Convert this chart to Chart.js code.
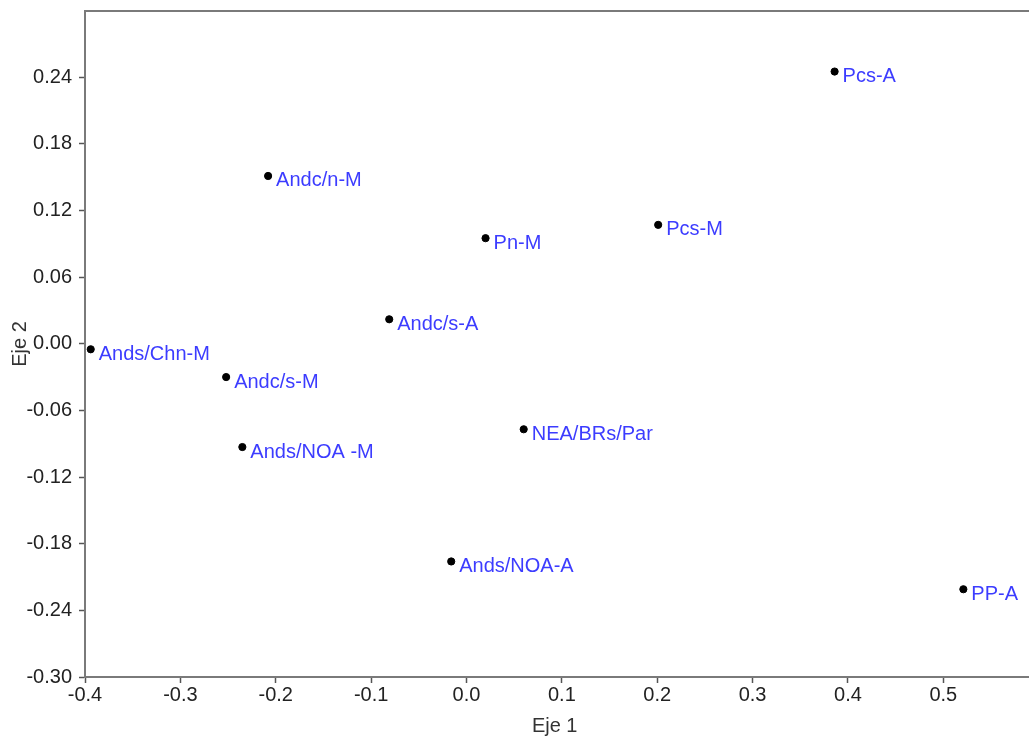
<!DOCTYPE html>
<html>
<head>
<meta charset="utf-8">
<script src="https://cdn.jsdelivr.net/npm/chart.js@4.4.1/dist/chart.umd.min.js"></script>
<style>
  html, body { margin: 0; padding: 0; background: #fff; overflow: hidden; }
  #wrap { width: 1029px; height: 738px; position: relative; }
  canvas { display: block; }
</style>
</head>
<body>
<div id="wrap"><canvas id="canvasBiplot"></canvas></div>
<script>
// site labels and scores
var siteLabels = ["Pcs-A", "Andc/n-M", "Pcs-M", "Pn-M", "Andc/s-A", "Ands/Chn-M",
  "Andc/s-M", "NEA/BRs/Par", "Ands/NOA -M", "Ands/NOA-A", "PP-A"];
var eje1 = [0.386, -0.208, 0.201, 0.020, -0.081, -0.394, -0.252, 0.060, -0.235, -0.016, 0.521];
var eje2 = [0.245, 0.151, 0.107, 0.095, 0.022, -0.005, -0.030, -0.077, -0.093, -0.196, -0.221];

var xTicks = [-0.4, -0.3, -0.2, -0.1, 0, 0.1, 0.2, 0.3, 0.4, 0.5];
var yTicks = [-0.30, -0.24, -0.18, -0.12, -0.06, 0, 0.06, 0.12, 0.18, 0.24];

var axisFont = { family: "'Liberation Sans', Arial, sans-serif", size: 20 };

// draw the name of each point to its right
var pointLabels = {
  id: "pointLabels",
  afterDatasetsDraw: function(chart) {
    var ctx = chart.ctx;
    var meta = chart.getDatasetMeta(0);
    ctx.save();
    ctx.font = "20px 'Liberation Sans', Arial, sans-serif";
    ctx.fillStyle = "#3c3cff";
    ctx.textBaseline = "middle";
    ctx.textAlign = "left";
    for (var i = 0; i < meta.data.length; i++) {
      var el = meta.data[i];
      ctx.fillText(siteLabels[i], el.x + 8, el.y + 5);
    }
    ctx.restore();
  }
};

// frame: top line and the rest of the bottom axis up to the canvas edge
var frameLines = {
  id: "frameLines",
  afterDraw: function(chart) {
    var ctx = chart.ctx;
    var a = chart.chartArea;
    ctx.save();
    ctx.strokeStyle = "#7a7a7a";
    ctx.lineWidth = 2;
    ctx.beginPath();
    ctx.moveTo(a.left, a.top);
    ctx.lineTo(chart.width, a.top);
    ctx.moveTo(a.right - 1, a.bottom);
    ctx.lineTo(chart.width, a.bottom);
    ctx.stroke();
    ctx.restore();
  }
};

var points = [];
for (var i = 0; i < eje1.length; i++) {
  points.push({ x: eje1[i], y: eje2[i] });
}

var biplotConfig = {
  type: "scatter",
  data: {
    datasets: [{
      data: points,
      backgroundColor: "#000",
      borderColor: "#000",
      pointRadius: 3.6,
      pointHoverRadius: 3.6
    }]
  },
  options: {
    responsive: true,
    maintainAspectRatio: false,
    animation: false,
    layout: { padding: { top: 11, right: 0 } },
    plugins: { legend: { display: false }, tooltip: { enabled: false } },
    scales: {
      x: {
        min: -0.4,
        max: 0.585,
        afterBuildTicks: function(scale) {
          scale.ticks = xTicks.map(function(v) { return { value: v }; });
        },
        afterFit: function(scale) { scale.height = 61; },
        border: { color: "#7a7a7a", width: 2 },
        grid: { drawOnChartArea: false, tickLength: 6, color: "#555", tickWidth: 1.5 },
        ticks: {
          color: "#222",
          font: axisFont,
          padding: 0,
          maxRotation: 0,
          callback: function(v) { return Number(v).toFixed(1); }
        },
        title: { display: true, text: "Eje 1", color: "#333", font: axisFont, padding: { top: 0, bottom: 0 } }
      },
      y: {
        min: -0.30,
        max: 0.2995,
        afterBuildTicks: function(scale) {
          scale.ticks = yTicks.map(function(v) { return { value: v }; });
        },
        afterFit: function(scale) {
          scale.width = 85;
          scale.paddingTop = 0;
          scale.paddingBottom = 0;
        },
        border: { color: "#7a7a7a", width: 2 },
        grid: { drawOnChartArea: false, tickLength: 6, color: "#555", tickWidth: 1.5 },
        ticks: {
          color: "#222",
          font: axisFont,
          padding: 7,
          callback: function(v) { return Number(v).toFixed(2); }
        },
        title: { display: true, text: "Eje 2", color: "#333", font: axisFont, padding: { top: 8, bottom: 0 } }
      }
    }
  },
  plugins: [pointLabels, frameLines]
};

var biplotChart = new Chart(document.getElementById("canvasBiplot"), biplotConfig);
</script>
</body>
</html>
